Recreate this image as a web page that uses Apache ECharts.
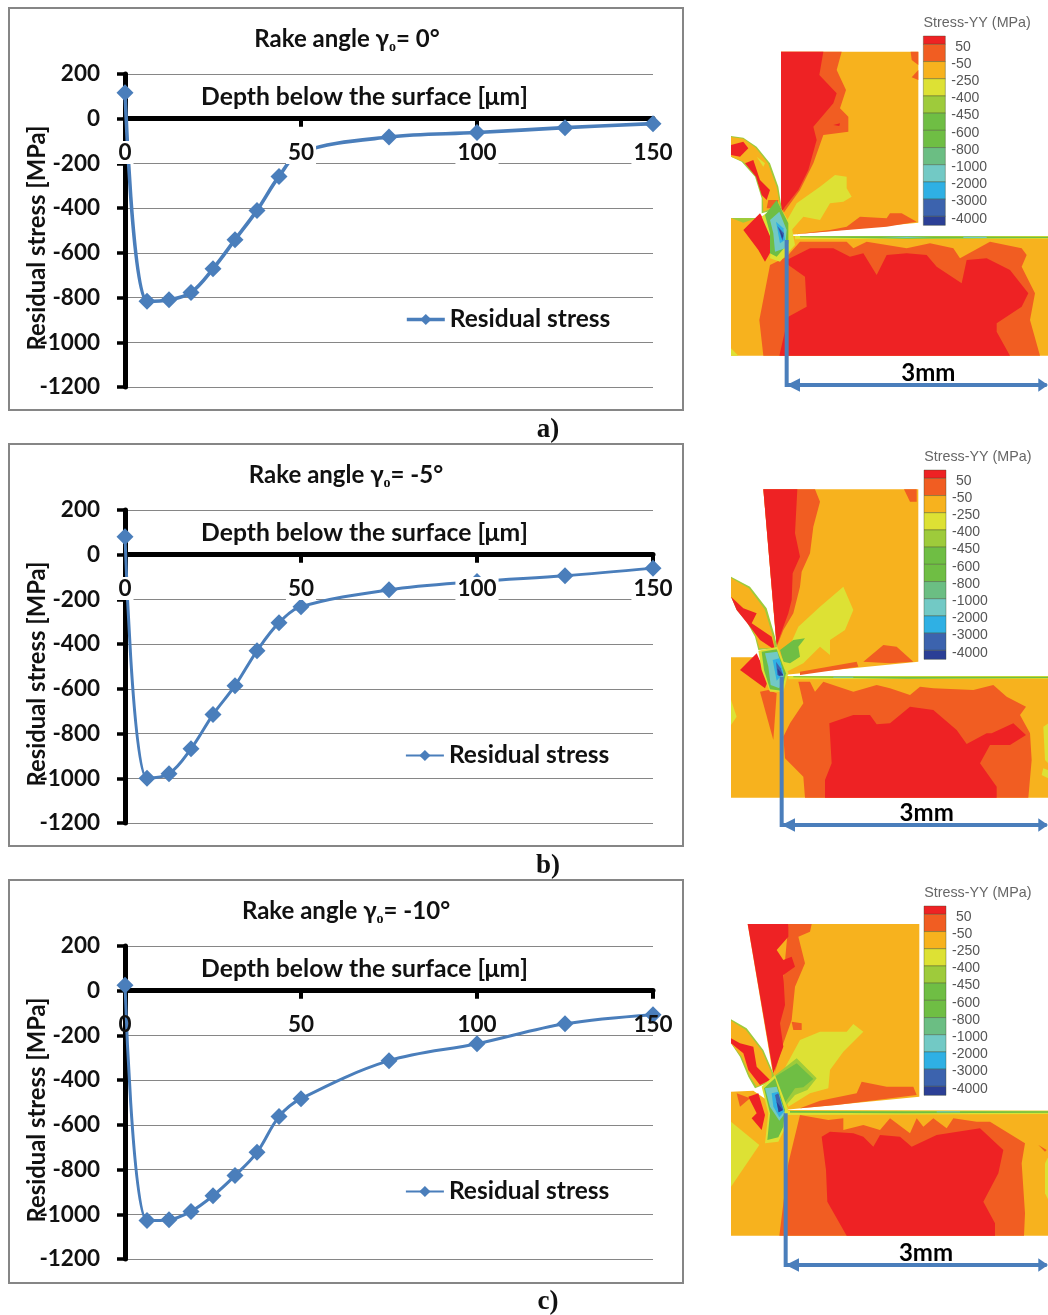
<!DOCTYPE html>
<html>
<head>
<meta charset="utf-8">
<style>html,body{margin:0;padding:0;background:#fff}#main{width:1048px;height:1315px}</style>
<script src="https://cdn.jsdelivr.net/npm/echarts@6/dist/echarts.min.js"></script>
</head>
<body>
<div id="main"></div>
<script>
// depth below the surface [um]
const depth = [0, 6.25, 12.5, 18.75, 25, 31.25, 37.5, 43.75, 50, 75, 100, 125, 150];
const stressA = [116, -817, -810, -777, -671, -541, -410, -258, -150, -82, -62, -40, -22];
const stressB = [80, -1000, -980, -868, -715, -586, -430, -304, -233, -157, -120, -94, -60];
const stressC = [25, -1028, -1024, -987, -917, -827, -723, -563, -483, -313, -237, -148, -107];
const rakeAngles = ['0°', '-5°', '-10°'];
const captions = ['a)', 'b)', 'c)'];
const contourLevels = ['50', '-50', '-250', '-400', '-450', '-600', '-800', '-1000', '-2000', '-3000', '-4000'];

const RED = '#ee2224', ORG = '#f15d22', AMB = '#f7b21e', YEL = '#dde134', LIM = '#9ecb3b', GRN = '#6fbe44',
  MGR = '#6bbe83', TEA = '#72c9c5', SKY = '#2fb0e4', BLU = '#3c63ae', NAV = '#2b3f96';
const levelColors = [RED, ORG, AMB, YEL, LIM, GRN, GRN, MGR, TEA, SKY, BLU, NAV];
const ink = '#4a7ebb';

// contour patches, in 3x panel units
const patchesA = [
  [AMB, [33,654,125,654,205,708,984,708,984,1067,33,1067]],
  [LIM, [33,654,110,654,70,668]],
  [ORG, [150,795,200,770,240,725,380,725,400,745,440,725,500,735,560,745,630,730,700,745,720,775,810,725,905,745,920,765,905,800,945,880,930,960,960,1067,130,1067,118,960]],
  [RED, [200,780,270,745,340,745,390,770,430,760,470,825,500,765,560,760,620,765,650,800,725,850,740,780,800,775,870,810,925,880,905,920,830,970,830,995,870,1067,178,1067,205,950,260,920,255,830,205,795]],
  [YEL, [33,1045,55,1067,33,1067]],
  [AMB, [183,155,595,155,595,668,205,705,183,650]],
  [ORG, [572,155,595,155,595,195,575,180]],
  [ORG, [575,232,595,210,595,240]],
  [ORG, [310,155,365,155,350,210,378,270,360,325,385,350,385,395,310,405,280,490,240,570,190,640,183,155]],
  [RED, [183,155,310,155,298,225,350,280,340,310,280,380,290,420,265,510,235,570,195,620,183,640]],
  [RED, [340,375,360,370,358,378]],
  [YEL, [190,680,230,610,300,560,345,525,380,530,380,565,395,590,370,605,330,610,300,660,250,650,215,690]],
  [ORG, [225,703,330,690,380,680,420,650,500,655,510,640,545,640,590,665,500,680]],
  [LIM, [33,408,70,413,110,440,150,490,175,560,185,625,125,640,125,595,105,530,65,485,33,470]],
  [AMB, [33,411,70,416,107,443,144,490,170,560,180,615,130,635,128,595,110,530,70,485,33,470]],
  [RED, [33,435,70,425,85,445,60,470,33,465]],
  [RED, [75,490,100,480,120,540,150,570,140,600,125,585,108,530]],
  [YEL, [110,470,135,490,130,500]],
  [ORG, [145,600,175,600,170,625,140,625]],
  [YEL, [225,708,984,708,984,716,225,718]],
  [GRN, [240,709,560,709,984,710,984,714,560,716,240,712]],
  [TEA, [480,711,560,710,640,711,560,714]],
  [TEA, [730,710,800,710,800,714,730,714]],
  [RED, [70,690,120,640,150,690,155,750,135,785,115,750]],
  [YEL, [125,650,175,610,215,680,225,735,180,785,150,775,155,720]],
  [GRN, [135,645,170,600,205,670,205,730,170,770,150,760,150,700]],
  [TEA, [150,660,178,635,200,690,195,745,165,755,160,700]],
  [SKY, [168,665,190,685,195,720,180,730]],
  [BLU, [172,678,192,700,188,722]],
  [NAV, [178,685,190,708,186,716]]
];
const patchesB = [
  [AMB, [33,652,105,652,190,708,984,708,984,1073,33,1073]],
  [ORG, [235,725,270,725,285,755,310,725,400,755,470,735,510,745,570,765,600,740,640,745,760,750,820,735,860,770,918,800,900,825,930,880,935,960,925,1073,255,1073,250,1010,195,955,190,890,210,850,250,790]],
  [RED, [328,850,400,825,450,825,470,853,510,850,570,800,640,810,710,870,740,912,800,880,815,880,880,850,918,885,870,915,810,915,780,970,830,1040,830,1073,315,1073,315,1020,335,970]],
  [ORG, [120,755,145,750,170,760,160,900]],
  [YEL, [33,780,50,830,33,855]],
  [YEL, [985,850,970,860,975,960,985,970]],
  [YEL, [970,985,985,990,985,1015,965,1005]],
  [AMB, [130,148,595,148,595,665,190,705,170,620]],
  [ORG, [552,148,590,148,590,185,570,185]],
  [ORG, [230,148,285,148,300,185,280,260,270,340,245,395,240,440,220,520,190,570,170,620,130,148]],
  [RED, [130,148,232,148,225,280,240,350,218,400,215,480,205,520,170,615]],
  [YEL, [190,660,235,560,300,500,370,440,400,510,375,570,330,600,330,645,300,620,250,670,200,695]],
  [GRN, [180,630,220,600,255,595,235,620,240,650,210,670,190,665]],
  [ORG, [430,665,490,615,530,620,580,665,510,670]],
  [ORG, [240,695,410,665,415,680,240,705]],
  [LIM, [33,410,90,440,140,505,165,590,172,625,115,630,105,590,80,545,50,510,33,470]],
  [AMB, [33,414,87,445,134,508,159,590,165,625,118,625,108,590,85,545,55,510,33,470]],
  [RED, [33,470,70,505,110,520,95,550,125,570,155,590,165,630,120,600,90,560,50,510]],
  [YEL, [205,708,984,708,984,716,205,718]],
  [GRN, [220,709,560,710,984,710,984,714,560,716,220,712]],
  [TEA, [340,710,400,710,400,713,340,713]],
  [RED, [60,690,110,640,145,720,135,745]],
  [YEL, [115,632,172,620,205,700,190,755,150,755,125,690]],
  [GRN, [125,635,170,628,198,700,185,752,150,748,132,690]],
  [TEA, [135,640,172,635,192,705,178,745,152,735,145,680]],
  [SKY, [158,660,178,655,190,700,170,722]],
  [BLU, [168,665,182,685,190,708,172,705]],
  [NAV, [172,685,190,705,176,708]]
];
const patchesC = [
  [AMB, [33,635,100,632,185,690,984,692,984,1067,33,1067]],
  [ORG, [240,705,325,720,370,715,370,750,430,735,480,750,510,715,570,760,590,715,610,740,640,715,680,745,700,715,770,725,810,725,915,790,905,850,915,1000,912,1067,178,1067,205,850]],
  [RED, [305,770,330,755,400,760,430,770,460,800,480,765,540,770,575,800,650,765,780,745,850,810,835,880,790,965,825,1030,825,1067,380,1067,322,965,318,870]],
  [YEL, [33,725,118,795,33,920]],
  [YEL, [985,830,975,850,975,940,985,960]],
  [ORG, [955,795,980,810,975,815]],
  [AMB, [83,132,598,132,598,650,190,690,160,590]],
  [ORG, [205,132,275,132,270,155,235,170,255,250,225,320,215,420,190,490,165,575]],
  [RED, [83,132,205,132,205,170,170,210,190,240,215,230,225,260,190,285,195,375,180,430,190,500,160,580]],
  [ORG, [215,425,245,430,245,450,220,450]],
  [YEL, [180,590,240,480,300,455,380,455,400,432,430,455,370,515,330,570,325,625,270,640,205,680]],
  [LIM, [160,590,230,535,290,595,262,630,225,645,190,685]],
  [GRN, [165,590,230,550,280,597,250,622,225,625,190,675]],
  [ORG, [300,662,410,640,425,605,500,620,580,620,590,645,350,675,240,685]],
  [LIM, [33,418,80,445,130,510,160,580,165,600,105,625,85,590,60,530,33,490]],
  [AMB, [33,422,77,449,126,512,155,580,155,600,110,620,90,590,65,530,33,490]],
  [RED, [33,475,60,490,100,500,110,560,150,600,120,615,85,570,70,520,33,490]],
  [YEL, [190,692,984,692,984,702,190,705]],
  [GRN, [210,693,550,694,984,694,984,698,550,700,210,698]],
  [TEA, [650,694,720,694,720,697,650,697]],
  [ORG, [50,640,90,655,60,680]],
  [RED, [85,650,115,640,135,705,125,750,95,715,110,700]],
  [YEL, [125,620,165,585,205,690,195,745,175,785,135,790,145,700]],
  [GRN, [132,625,165,595,195,690,190,740,175,772,142,780,150,700]],
  [TEA, [135,625,170,620,195,700,178,722,150,680]],
  [SKY, [155,640,175,635,192,695,178,712,160,680]],
  [BLU, [165,645,175,640,190,690,176,697]],
  [NAV, [170,665,188,690,176,697]]
];

// one entry per panel: top of panel, contour patches, colour bar, arrow, label
const panels = [
  {top: 0, patches: patchesA, barX: 610, barTop: 108, axisX: 200, axisTop: 720, labelX: 625},
  {top: 440, patches: patchesB, barX: 612, barTop: 90, axisX: 185, axisTop: 710, labelX: 620},
  {top: 880, patches: patchesC, barX: 612, barTop: 78, axisX: 197, axisTop: 700, labelX: 618}
];
const chartTops = [74, 510, 946];
const frameTops = [8, 444, 880];
const titleCenters = [342, 341, 341];
const series3 = [stressA, stressB, stressC];
const lineWidths = [3.6, 3, 3];
const labelFont = 'Lato, "Open Sans", sans-serif';

function polygonItem(api, flat, fill) {
  const pts = [];
  for (let i = 0; i < flat.length; i += 2) pts.push(api.coord([flat[i], flat[i + 1]]));
  return {type: 'polygon', shape: {points: pts}, style: {fill: fill}};
}

function panelRenderer(panel) {
  return function (params, api) {
    const p = panel.patches[api.value(0)];
    return polygonItem(api, p[1], p[0]);
  };
}

function colorBarRenderer(panel) {
  return function (params, api) {
    const i = api.value(0);
    const h = 51.6;
    const y0 = i === 0 ? panel.barTop : panel.barTop + 25 + (i - 1) * h;
    const y1 = i === 0 ? panel.barTop + 25 : (i === levelColors.length - 1 ? y0 + 27 : y0 + h);
    const a = api.coord([panel.barX, y0]);
    const b = api.coord([panel.barX + 66, y1]);
    return {type: 'rect', shape: {x: a[0], y: a[1], width: b[0] - a[0], height: b[1] - a[1]},
      style: {fill: levelColors[i], stroke: 'rgba(60,70,40,0.55)', lineWidth: 0.7}};
  };
}

function levelLabelRenderer(panel) {
  return function (params, api) {
    const i = api.value(0);
    const pos = api.coord([panel.barX + (i === 0 ? 96 : 84), panel.barTop + 32 + i * 51.6]);
    return {type: 'text', x: pos[0], y: pos[1], style: {text: contourLevels[i], fill: '#555',
      font: '14px "Liberation Sans", sans-serif', textAlign: 'left', textVerticalAlign: 'middle'}};
  };
}

function arrowRenderer(panel) {
  return function (params, api) {
    const y = 1155;
    const top = api.coord([panel.axisX, panel.axisTop]);
    const corner = api.coord([panel.axisX, y]);
    const end = api.coord([980, y]);
    const line = {stroke: ink, lineWidth: 4, fill: 'none'};
    return {type: 'group', children: [
      {type: 'polyline', shape: {points: [top, corner, end]}, style: line},
      polygonItem(api, [panel.axisX, y, panel.axisX + 40, y - 20, panel.axisX + 40, y + 20], ink),
      polygonItem(api, [984, y, 955, y - 20, 955, y + 20], ink),
      {type: 'text', x: api.coord([panel.labelX, 0])[0], y: api.coord([0, 1120])[1], style: {text: '3mm', fill: '#000',
        font: 'bold 24px ' + labelFont, textAlign: 'center', textVerticalAlign: 'middle'}}
    ]};
  };
}

const grid = [], xAxis = [], yAxis = [], series = [], title = [], legend = [], graphic = [];
const plainNumber = function (v) { return String(v); };

chartTops.forEach(function (top, i) {
  grid.push({left: 125, width: 528, top: top, height: 313, outerBoundsMode: 'none'});
  const gi = grid.length - 1;
  // axis line and ticks
  xAxis.push({gridIndex: gi, type: 'value', position: 'top', min: 0, max: 150, interval: 50, z: 1,
    axisLine: {show: true, onZero: true, lineStyle: {color: '#000', width: 5}},
    axisTick: {show: true, inside: true, length: 8, lineStyle: {color: '#000', width: 4}},
    axisLabel: {show: false}, splitLine: {show: false}});
  // tick labels sit over the curve, white boxes on the first two charts
  xAxis.push({gridIndex: gi, type: 'value', position: 'bottom', offset: -268, min: 0, max: 150, interval: 50, z: 5,
    axisLine: {show: false, onZero: false}, axisTick: {show: false}, splitLine: {show: false},
    axisLabel: {show: true, margin: 22, fontFamily: labelFont, fontWeight: 'bold', fontSize: 22.5, color: '#111',
      backgroundColor: i < 2 ? '#fff' : 'transparent', padding: [0, 2, 0, 2], hideOverlap: false,
      showMinLabel: true, showMaxLabel: true, formatter: plainNumber}});
  yAxis.push({gridIndex: gi, type: 'value', min: -1200, max: 200, interval: 200, z: 1,
    name: 'Residual stress [MPa]', nameLocation: 'middle', nameGap: 76, nameRotate: 90, nameMoveOverlap: false,
    nameTextStyle: {fontFamily: labelFont, fontWeight: 'bold', fontSize: 23.8, color: '#111', padding: [0, 15, 0, 0]},
    axisLine: {show: true, onZero: false, lineStyle: {color: '#000', width: 5}},
    axisTick: {show: true, length: 8, lineStyle: {color: '#000', width: 3.5}},
    axisLabel: {margin: 25, fontFamily: labelFont, fontWeight: 'bold', fontSize: 22.5, color: '#111',
      showMinLabel: true, showMaxLabel: true, formatter: plainNumber},
    splitLine: {show: true, lineStyle: {color: '#868686', width: 1}}});
  series.push({name: 'Residual stress', type: 'line', xAxisIndex: xAxis.length - 2, yAxisIndex: yAxis.length - 1, z: 3,
    data: depth.map(function (d, k) { return [d, series3[i][k]]; }), smooth: 0.35,
    symbol: 'diamond', symbolSize: 17, showAllSymbol: true, animation: false,
    lineStyle: {color: ink, width: lineWidths[i]}, itemStyle: {color: ink}});
  title.push({text: '{a|Rake angle γ}{s|o}{a|= ' + rakeAngles[i] + '}', left: titleCenters[i], top: frameTops[i] + 11, textAlign: 'center',
    textStyle: {rich: {a: {fontFamily: labelFont, fontWeight: 'bold', fontSize: 24, color: '#111', lineHeight: 30},
      s: {fontFamily: '"Liberation Serif", serif', fontWeight: 'bold', fontSize: 14, color: '#111', lineHeight: 30, verticalAlign: 'bottom', padding: [8, 0, 0, 0]}}}});
  title.push({text: 'Depth below the surface [μm]', left: 359.5, top: frameTops[i] + 72, textAlign: 'center',
    textStyle: {fontFamily: labelFont, fontWeight: 'bold', fontSize: 24.7, color: '#111'}});
  title.push({text: captions[i], left: 543, top: frameTops[i] + 404, textAlign: 'center',
    textStyle: {fontFamily: '"Liberation Serif", serif', fontWeight: 'bold', fontSize: 27, color: '#111'}});
  legend.push({data: ['Residual stress'], left: 405, top: top + 233, padding: 0, itemWidth: 38, itemHeight: 14, itemGap: 1, selectedMode: false,
    lineStyle: {width: i === 0 ? 3.6 : 1.8},
    textStyle: {fontFamily: labelFont, fontWeight: 'bold', fontSize: 24.5, color: '#111'}});
  graphic.push({type: 'rect', shape: {x: 9, y: frameTops[i], width: 674, height: i === 2 ? 403 : 402},
    style: {fill: 'none', stroke: '#868686', lineWidth: 2}, z: -1});
});

panels.forEach(function (panel) {
  grid.push({left: 720, width: 328, top: panel.top, height: 400, outerBoundsMode: 'none'});
  const gi = grid.length - 1;
  xAxis.push({gridIndex: gi, type: 'value', show: false, min: 0, max: 984});
  yAxis.push({gridIndex: gi, type: 'value', show: false, min: 0, max: 1200, inverse: true});
  const xi = xAxis.length - 1, yi = yAxis.length - 1;
  const custom = {type: 'custom', xAxisIndex: xi, yAxisIndex: yi, clip: false, animation: false, silent: true};
  series.push(Object.assign({}, custom, {renderItem: panelRenderer(panel), encode: {x: 1, y: 2},
    data: panel.patches.map(function (p, k) { return [k, 0, 0]; }), z: 2}));
  series.push(Object.assign({}, custom, {renderItem: colorBarRenderer(panel), encode: {x: 1, y: 2},
    data: levelColors.map(function (c, k) { return [k, 0, 0]; }), z: 3}));
  series.push(Object.assign({}, custom, {renderItem: levelLabelRenderer(panel), encode: {x: 1, y: 2},
    data: contourLevels.map(function (c, k) { return [k, 0, 0]; }), z: 3}));
  series.push(Object.assign({}, custom, {renderItem: arrowRenderer(panel), encode: {x: 1, y: 2},
    data: [[0, 0, 0]], z: 4}));
  title.push({text: 'Stress-YY (MPa)', left: 720 + (panel.barX + 160) / 3 - 4.5, top: panel.top + panel.barTop / 3 - 24.5, textAlign: 'center',
    textStyle: {fontFamily: '"Liberation Sans", sans-serif', fontWeight: 'normal', fontSize: 14.3, color: '#666'}});
});

const chart = echarts.init(document.getElementById('main'), null, {width: 1048, height: 1315, renderer: 'canvas'});
chart.setOption({
  backgroundColor: '#ffffff',
  animation: false,
  title: title,
  legend: legend,
  grid: grid,
  xAxis: xAxis,
  yAxis: yAxis,
  series: series,
  graphic: graphic
});
</script>
</body>
</html>
